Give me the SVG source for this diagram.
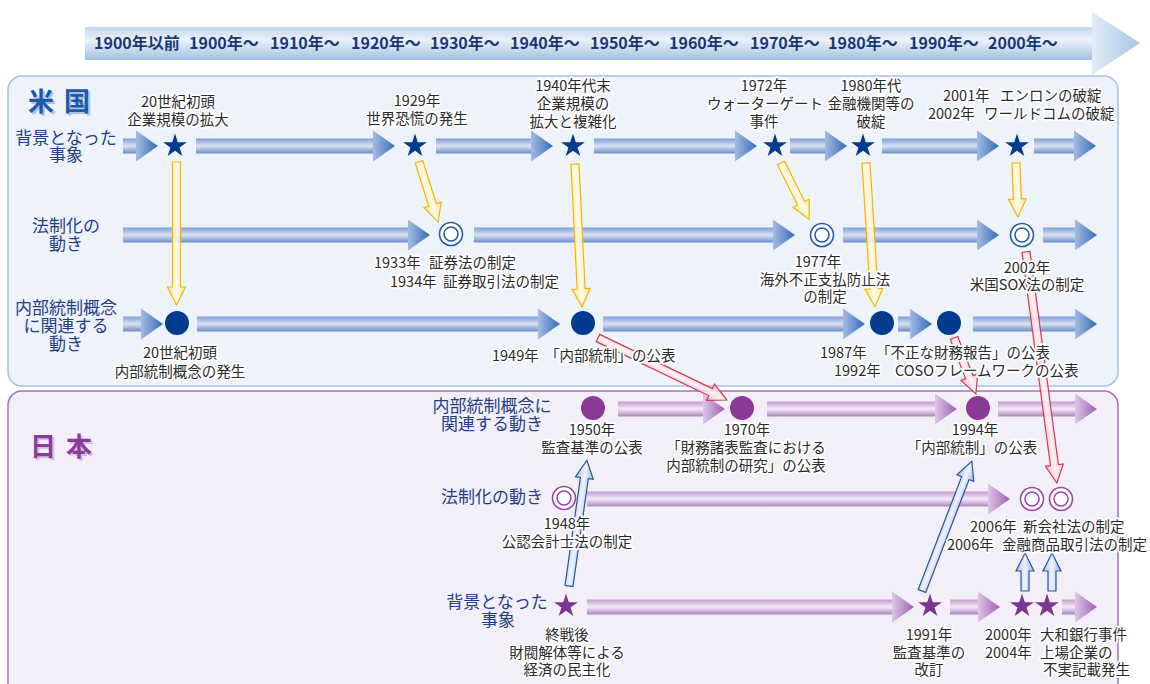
<svg xmlns="http://www.w3.org/2000/svg" xmlns:xlink="http://www.w3.org/1999/xlink" width="1150" height="684" viewBox="0 0 1150 684">
  <style>
    text { font-family: "Noto Sans CJK JP", "Noto Sans", sans-serif; }
    .yr { font-size: 16px; font-weight: 700; fill: #1b3777; }
    .lab { font-size: 17px; fill: #1f3f86; text-anchor: middle; }
    .ev { font-size: 14.5px; fill: #2a2a2a; stroke: #ffffff; stroke-width: 3.5px; stroke-linejoin: round; paint-order: stroke; }
    .c { text-anchor: middle; }
    .ttl { font-size: 26px; font-weight: 700; letter-spacing: 10px; }
    .shB { fill: url(#shaftB); }
    .hdB { fill: url(#headB); }
    .shP { fill: url(#shaftP); }
    .hdP { fill: url(#headP); }
    .usDot { fill: #003b8e; }
    .jpDot { fill: #883a96; }
    .usStar { fill: #003b8e; }
    .jpStar { fill: #7b3592; }
    .usRing { fill: #ffffff; stroke: #2a5aa8; stroke-width: 1.6; }
    .usRing2 { fill: none; stroke: #2a5aa8; stroke-width: 1.6; }
    .jpRing { fill: #ffffff; stroke: #9a4aa6; stroke-width: 1.6; }
    .jpRing2 { fill: none; stroke: #9a4aa6; stroke-width: 1.6; }
    .yel { fill: url(#yelG); fill-opacity: 0.85; stroke: #f0b800; stroke-width: 1.2; }
    .red { fill: url(#redG); fill-opacity: 0.85; stroke: #d03a58; stroke-width: 1.2; }
    .blu { fill: url(#bluG); fill-opacity: 0.9; stroke: #2455a4; stroke-width: 1.2; }
  </style>
  <defs>
    <linearGradient id="barG" x1="0" y1="0" x2="0" y2="1">
      <stop offset="0" stop-color="#c3d6ec"/>
      <stop offset="0.4" stop-color="#ecf2fa"/>
      <stop offset="1" stop-color="#a2bfdf"/>
    </linearGradient>
    <linearGradient id="barHead" x1="0" y1="0" x2="1" y2="0">
      <stop offset="0" stop-color="#e2ecf7"/>
      <stop offset="1" stop-color="#a9c5e4"/>
    </linearGradient>
    <linearGradient id="shaftB" x1="0" y1="0" x2="0" y2="1">
      <stop offset="0" stop-color="#7f9fd3"/>
      <stop offset="0.5" stop-color="#dae2f2"/>
      <stop offset="1" stop-color="#6a8cc6"/>
    </linearGradient>
    <linearGradient id="headB" x1="0" y1="0" x2="1" y2="0">
      <stop offset="0" stop-color="#a5bbe3"/>
      <stop offset="1" stop-color="#336cb9"/>
    </linearGradient>
    <linearGradient id="shaftP" x1="0" y1="0" x2="0" y2="1">
      <stop offset="0" stop-color="#c29ad2"/>
      <stop offset="0.5" stop-color="#f4ebf7"/>
      <stop offset="1" stop-color="#ad84c2"/>
    </linearGradient>
    <linearGradient id="headP" x1="0" y1="0" x2="1" y2="0">
      <stop offset="0" stop-color="#dcc6e6"/>
      <stop offset="1" stop-color="#9e60b3"/>
    </linearGradient>
    <linearGradient id="yelG" x1="0" y1="0" x2="0" y2="1">
      <stop offset="0" stop-color="#ffe98a"/>
      <stop offset="0.5" stop-color="#fffbe8"/>
      <stop offset="1" stop-color="#ffe27a"/>
    </linearGradient>
    <linearGradient id="redG" x1="0" y1="0" x2="0" y2="1">
      <stop offset="0" stop-color="#f3c3cc"/>
      <stop offset="0.5" stop-color="#fdf0f2"/>
      <stop offset="1" stop-color="#eeb0bc"/>
    </linearGradient>
    <linearGradient id="bluG" x1="0" y1="0" x2="0" y2="1">
      <stop offset="0" stop-color="#a9bde4"/>
      <stop offset="0.5" stop-color="#eef2fa"/>
      <stop offset="1" stop-color="#98afdc"/>
    </linearGradient>
    <path id="star" d="M0,-12.5L2.81,-3.87L11.88,-3.87L4.55,1.48L7.35,10.11L0,4.78L-7.35,10.11L-4.55,1.48L-11.88,-3.87L-2.81,-3.87Z"/>
  </defs>

  <rect width="1150" height="684" fill="#ffffff"/>

  <!-- decade scale -->
  <g id="timescale">
    <rect x="85" y="27" width="1010" height="33" fill="url(#barG)"/>
    <path d="M1092,12L1140,43L1092,75Z" fill="url(#barHead)"/>
    <text class="yr" x="94" y="49">1900年以前</text>
    <text class="yr" x="189" y="49">1900年～</text>
    <text class="yr" x="270" y="49">1910年～</text>
    <text class="yr" x="351" y="49">1920年～</text>
    <text class="yr" x="430" y="49">1930年～</text>
    <text class="yr" x="510" y="49">1940年～</text>
    <text class="yr" x="590" y="49">1950年～</text>
    <text class="yr" x="669" y="49">1960年～</text>
    <text class="yr" x="750" y="49">1970年～</text>
    <text class="yr" x="828" y="49">1980年～</text>
    <text class="yr" x="909" y="49">1990年～</text>
    <text class="yr" x="988" y="49">2000年～</text>
  </g>

  <!-- panels -->
  <g id="panel-us">
    <rect x="8" y="76" width="1110" height="310" rx="14" fill="#eef2fa" stroke="#a9c2e4" stroke-width="1.5"/>
    <text class="ttl" x="30" y="113" fill="#a9c4e6">米国</text>
    <text class="ttl" x="28" y="111" fill="#1d5aa6">米国</text>
    <text class="lab" x="66" y="144">背景となった</text>
    <text class="lab" x="66" y="161">事象</text>
    <text class="lab" x="66" y="232">法制化の</text>
    <text class="lab" x="66" y="250">動き</text>
    <text class="lab" x="66" y="314">内部統制概念</text>
    <text class="lab" x="66" y="332">に関連する</text>
    <text class="lab" x="66" y="350">動き</text>
  </g>
  <g id="panel-jp">
    <rect x="8" y="391" width="1110" height="320" rx="14" fill="#f3eff8" stroke="#a870b8" stroke-width="1.5"/>
    <text class="ttl" x="32" y="458" fill="#d8c0e2">日本</text>
    <text class="ttl" x="30" y="456" fill="#8b3b98">日本</text>
    <text class="lab" x="492" y="412">内部統制概念に</text>
    <text class="lab" x="492" y="430">関連する動き</text>
    <text class="lab" x="492" y="503">法制化の動き</text>
    <text class="lab" x="497" y="608">背景となった</text>
    <text class="lab" x="498" y="626">事象</text>
  </g>

  <!-- flow arrows along each row -->
  <g id="flows">
    <!-- US: background events -->
    <rect class="shB" x="123" y="138.5" width="13" height="15"/><path class="hdB" d="M136,130.5L158,146L136,161.5Z"/>
    <rect class="shB" x="196" y="138.5" width="177" height="15"/><path class="hdB" d="M373,130.5L395,146L373,161.5Z"/>
    <rect class="shB" x="436" y="138.5" width="95" height="15"/><path class="hdB" d="M531,130.5L553,146L531,161.5Z"/>
    <rect class="shB" x="594" y="138.5" width="141" height="15"/><path class="hdB" d="M735,130.5L757,146L735,161.5Z"/>
    <rect class="shB" x="790" y="138.5" width="35" height="15"/><path class="hdB" d="M825,130.5L847,146L825,161.5Z"/>
    <rect class="shB" x="882" y="138.5" width="95" height="15"/><path class="hdB" d="M977,130.5L999,146L977,161.5Z"/>
    <rect class="shB" x="1034" y="138.5" width="40" height="15"/><path class="hdB" d="M1074,130.5L1096,146L1074,161.5Z"/>
    <!-- US: legislation -->
    <rect class="shB" x="123" y="227.5" width="285" height="15"/><path class="hdB" d="M408,219.5L430,235L408,250.5Z"/>
    <rect class="shB" x="474" y="227.5" width="299" height="15"/><path class="hdB" d="M773,219.5L795,235L773,250.5Z"/>
    <rect class="shB" x="843" y="227.5" width="134" height="15"/><path class="hdB" d="M977,219.5L999,235L977,250.5Z"/>
    <rect class="shB" x="1043" y="227.5" width="32" height="15"/><path class="hdB" d="M1075,219.5L1097,235L1075,250.5Z"/>
    <!-- US: internal control -->
    <rect class="shB" x="123" y="316.5" width="18" height="15"/><path class="hdB" d="M141,308.5L163,324L141,339.5Z"/>
    <rect class="shB" x="197" y="316.5" width="341" height="15"/><path class="hdB" d="M538,308.5L560,324L538,339.5Z"/>
    <rect class="shB" x="603" y="316.5" width="240" height="15"/><path class="hdB" d="M843,308.5L865,324L843,339.5Z"/>
    <rect class="shB" x="898" y="316.5" width="12" height="15"/><path class="hdB" d="M910,308.5L932,324L910,339.5Z"/>
    <rect class="shB" x="973" y="316.5" width="102" height="15"/><path class="hdB" d="M1075,308.5L1097,324L1075,339.5Z"/>
    <!-- JP: internal control -->
    <rect class="shP" x="618" y="401.5" width="85" height="15"/><path class="hdP" d="M703,393.5L725,409L703,424.5Z"/>
    <rect class="shP" x="767" y="401.5" width="168" height="15"/><path class="hdP" d="M935,393.5L957,409L935,424.5Z"/>
    <rect class="shP" x="998" y="401.5" width="77" height="15"/><path class="hdP" d="M1075,393.5L1097,409L1075,424.5Z"/>
    <!-- JP: legislation -->
    <rect class="shP" x="587" y="491.5" width="401" height="15"/><path class="hdP" d="M988,483.5L1010,499L988,514.5Z"/>
    <!-- JP: background events -->
    <rect class="shP" x="587" y="599.5" width="305" height="15"/><path class="hdP" d="M892,591.5L914,607L892,622.5Z"/>
    <rect class="shP" x="950" y="599.5" width="28" height="15"/><path class="hdP" d="M978,591.5L1000,607L978,622.5Z"/>
    <rect class="shP" x="1062" y="599.5" width="13" height="15"/><path class="hdP" d="M1075,591.5L1097,607L1075,622.5Z"/>
  </g>

  <!-- influence connectors (drawn under node labels) -->
  <g id="connectors">
    <path class="yel" d="M0,-4H125V-9L143,0L125,9V4H0Z" transform="translate(176.5,162) rotate(90)"/>
    <path class="yel" d="M0,-4H45V-9L63,0L45,9V4H0Z" transform="translate(419,162) rotate(72.4)"/>
    <path class="yel" d="M0,-4H125V-9L143,0L125,9V4H0Z" transform="translate(575,164) rotate(87.2)"/>
    <path class="yel" d="M0,-4H45V-9L63,0L45,9V4H0Z" transform="translate(781,163) rotate(63.4)"/>
    <path class="yel" d="M0,-4H126V-9L144,0L126,9V4H0Z" transform="translate(866,163) rotate(86.4)"/>
    <path class="yel" d="M0,-4H36V-9L54,0L36,9V4H0Z" transform="translate(1016,163) rotate(87.9)"/>

    <path class="red" d="M0,-4H125V-9L143,0L125,9V4H0Z" transform="translate(598,338) rotate(25.7)"/>
    <path class="red" d="M0,-4H42V-9L60,0L42,9V4H0Z" transform="translate(954,338) rotate(68.6)"/>
    <path class="red" d="M0,-4H215V-9L233,0L215,9V4H0Z" transform="translate(1026,252) rotate(82.4)"/>

    <path class="blu" d="M0,-4H109V-9L127,0L109,9V4H0Z" transform="translate(569,586) rotate(-81.9)"/>
    <path class="blu" d="M0,-4H121V-9L139,0L121,9V4H0Z" transform="translate(922,591) rotate(-69)"/>
    <path class="blu" d="M0,-4H20V-9L38,0L20,9V4H0Z" transform="translate(1025,591) rotate(-90)"/>
    <path class="blu" d="M0,-4H20V-9L38,0L20,9V4H0Z" transform="translate(1052,591) rotate(-90)"/>
  </g>

  <!-- US nodes -->
  <g id="us-1900s-event">
    <use href="#star" class="usStar" x="175" y="146"/>
    <text class="ev c" x="178" y="107">20世紀初頭</text>
    <text class="ev c" x="178" y="125">企業規模の拡大</text>
  </g>
  <g id="us-1929-event">
    <use href="#star" class="usStar" x="415" y="146"/>
    <text class="ev c" x="417" y="106">1929年</text>
    <text class="ev c" x="417" y="124">世界恐慌の発生</text>
  </g>
  <g id="us-1940s-event">
    <use href="#star" class="usStar" x="573" y="146"/>
    <text class="ev c" x="573" y="91">1940年代末</text>
    <text class="ev c" x="573" y="109">企業規模の</text>
    <text class="ev c" x="573" y="127">拡大と複雑化</text>
  </g>
  <g id="us-1972-event">
    <use href="#star" class="usStar" x="775" y="146"/>
    <text class="ev c" x="764" y="91">1972年</text>
    <text class="ev c" x="765" y="109">ウォーターゲート</text>
    <text class="ev c" x="764" y="127">事件</text>
  </g>
  <g id="us-1980s-event">
    <use href="#star" class="usStar" x="863" y="146"/>
    <text class="ev c" x="871" y="91">1980年代</text>
    <text class="ev c" x="871" y="109">金融機関等の</text>
    <text class="ev c" x="871" y="127">破綻</text>
  </g>
  <g id="us-2001-event">
    <use href="#star" class="usStar" x="1017" y="146"/>
    <text class="ev" y="101"><tspan x="943">2001年</tspan><tspan x="1000">エンロンの破綻</tspan></text>
    <text class="ev" y="119"><tspan x="928">2002年</tspan><tspan x="984">ワールドコムの破綻</tspan></text>
  </g>

  <g id="us-1933-law">
    <circle class="usRing" cx="451" cy="234" r="11.5"/>
    <circle class="usRing2" cx="451" cy="234" r="7"/>
    <text class="ev" y="268"><tspan x="374">1933年</tspan><tspan x="429">証券法の制定</tspan></text>
    <text class="ev" y="287"><tspan x="390">1934年</tspan><tspan x="443">証券取引法の制定</tspan></text>
  </g>
  <g id="us-1977-law">
    <circle class="usRing" cx="822" cy="235" r="11.5"/>
    <circle class="usRing2" cx="822" cy="235" r="7"/>
    <text class="ev c" x="818" y="267">1977年</text>
    <text class="ev c" x="825" y="285">海外不正支払防止法</text>
    <text class="ev c" x="825" y="302">の制定</text>
  </g>
  <g id="us-2002-law">
    <circle class="usRing" cx="1022" cy="235" r="11.5"/>
    <circle class="usRing2" cx="1022" cy="235" r="7"/>
    <text class="ev c" x="1027" y="273">2002年</text>
    <text class="ev c" x="1027" y="290">米国SOX法の制定</text>
  </g>

  <g id="us-1900s-ic">
    <circle class="usDot" cx="177" cy="323" r="12"/>
    <text class="ev c" x="180" y="358">20世紀初頭</text>
    <text class="ev c" x="180" y="377">内部統制概念の発生</text>
  </g>
  <g id="us-1949-ic">
    <circle class="usDot" cx="583" cy="323" r="12"/>
    <text class="ev" y="361"><tspan x="492">1949年</tspan><tspan x="545">「内部統制」の公表</tspan></text>
  </g>
  <g id="us-1987-ic">
    <circle class="usDot" cx="882" cy="323" r="12"/>
    <text class="ev" y="358"><tspan x="820">1987年</tspan><tspan x="876">「不正な財務報告」の公表</tspan></text>
  </g>
  <g id="us-1992-ic">
    <circle class="usDot" cx="949" cy="323" r="12"/>
    <text class="ev" y="376"><tspan x="834">1992年</tspan><tspan x="895">COSOフレームワークの公表</tspan></text>
  </g>

  <!-- Japan nodes -->
  <g id="jp-1950-ic">
    <circle class="jpDot" cx="593" cy="408" r="12"/>
    <text class="ev c" x="592" y="435">1950年</text>
    <text class="ev c" x="592" y="453">監査基準の公表</text>
  </g>
  <g id="jp-1970-ic">
    <circle class="jpDot" cx="742" cy="408" r="12"/>
    <text class="ev c" x="747" y="435">1970年</text>
    <text class="ev c" x="746" y="453">「財務諸表監査における</text>
    <text class="ev c" x="746" y="471">内部統制の研究」の公表</text>
  </g>
  <g id="jp-1994-ic">
    <circle class="jpDot" cx="978" cy="408" r="12"/>
    <text class="ev c" x="975" y="435">1994年</text>
    <text class="ev c" x="972" y="453">「内部統制」の公表</text>
  </g>

  <g id="jp-1948-law">
    <circle class="jpRing" cx="564" cy="498" r="11.5"/>
    <circle class="jpRing2" cx="564" cy="498" r="7"/>
    <text class="ev c" x="567" y="529">1948年</text>
    <text class="ev c" x="567" y="547">公認会計士法の制定</text>
  </g>
  <g id="jp-2006-law">
    <circle class="jpRing" cx="1032" cy="499" r="11.5"/>
    <circle class="jpRing2" cx="1032" cy="499" r="7"/>
    <circle class="jpRing" cx="1061" cy="499" r="11.5"/>
    <circle class="jpRing2" cx="1061" cy="499" r="7"/>
    <text class="ev" y="532"><tspan x="970">2006年</tspan><tspan x="1023">新会社法の制定</tspan></text>
    <text class="ev" y="550"><tspan x="947">2006年</tspan><tspan x="1002">金融商品取引法の制定</tspan></text>
  </g>

  <g id="jp-postwar-event">
    <use href="#star" class="jpStar" x="566" y="606"/>
    <text class="ev c" x="567" y="640">終戦後</text>
    <text class="ev c" x="567" y="658">財閥解体等による</text>
    <text class="ev c" x="567" y="675">経済の民主化</text>
  </g>
  <g id="jp-1991-event">
    <use href="#star" class="jpStar" x="930" y="606"/>
    <text class="ev c" x="929" y="640">1991年</text>
    <text class="ev c" x="929" y="658">監査基準の</text>
    <text class="ev c" x="929" y="675">改訂</text>
  </g>
  <g id="jp-2000-event">
    <use href="#star" class="jpStar" x="1022" y="606"/>
    <use href="#star" class="jpStar" x="1047" y="606"/>
    <text class="ev" y="640"><tspan x="985">2000年</tspan><tspan x="1040">大和銀行事件</tspan></text>
    <text class="ev" y="658"><tspan x="985">2004年</tspan><tspan x="1040">上場企業の</tspan></text>
    <text class="ev" x="1043" y="675">不実記載発生</text>
  </g>
</svg>
